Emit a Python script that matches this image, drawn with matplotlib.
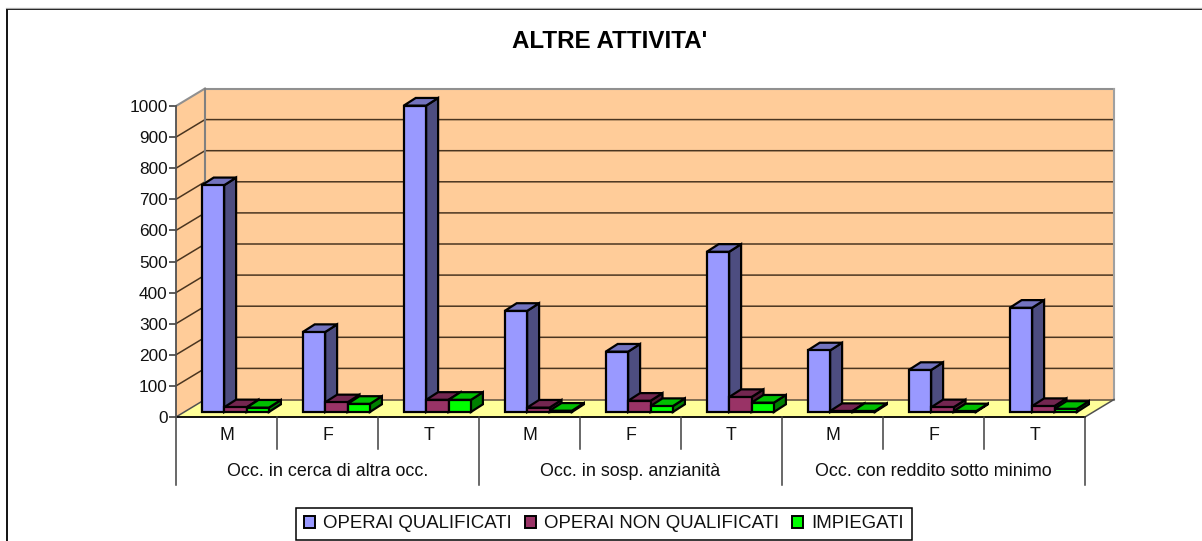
import matplotlib
matplotlib.use('Agg')
import matplotlib.pyplot as plt
from matplotlib.patches import Polygon, Patch
from matplotlib.lines import Line2D

plt.rcParams['font.family'] = ['Liberation Sans', 'DejaVu Sans']

title = "ALTRE ATTIVITA'"
groups = ['Occ. in cerca di altra occ.', 'Occ. in sosp. anzianità', 'Occ. con reddito sotto minimo']
categories = ['M', 'F', 'T', 'M', 'F', 'T', 'M', 'F', 'T']
series_names = ['OPERAI QUALIFICATI', 'OPERAI NON QUALIFICATI', 'IMPIEGATI']
operai_qual = [729, 257, 985, 325, 194, 515, 198, 135, 335]
operai_non_qual = [15, 31, 39, 14, 36, 48, 3, 15, 19]
impiegati = [14, 26, 39, 4, 19, 30, 3, 2, 10]
yticks = [0, 100, 200, 300, 400, 500, 600, 700, 800, 900, 1000]

# front, side, top
colors = [('#9999FF', '#4D4D80', '#7373BF'),
          ('#993366', '#4D1A33', '#732650'),
          ('#00FF00', '#008000', '#00BF00')]

W, H = 1202, 541
fig = plt.figure(figsize=(W / 100, H / 100), dpi=100)
ax = fig.add_axes([176 / W, (H - 417) / H, 909 / W, 311 / H])
ax.set_xlim(0, 9)
ax.set_ylim(0, 1000)
px_x = 9 / 909
px_y = 1000 / 311

# depth of the box and of one bar
wall_dx, wall_dy = 29 * px_x, 17.5 * px_y
bar_dx, bar_dy = 12 * px_x, 7.7 * px_y
base_y = 5 * px_y
start = 25.7 * px_x
bw = 22.4 * px_x


def poly(pts, fc, ec='none', lw=0, z=1):
    ax.add_patch(Polygon(pts, closed=True, facecolor=fc, edgecolor=ec, linewidth=lw,
                         zorder=z, clip_on=False, joinstyle='miter'))


# walls and floor
poly([(0, 0), (wall_dx, wall_dy), (9 + wall_dx, wall_dy), (9, 0)], '#FFFF99', z=1)
poly([(wall_dx, wall_dy), (wall_dx, 1000 + wall_dy), (9 + wall_dx, 1000 + wall_dy), (9 + wall_dx, wall_dy)],
     '#FFCC99', z=1)
poly([(0, 0), (0, 1000), (wall_dx, 1000 + wall_dy), (wall_dx, wall_dy)], '#FFCC99', z=1)

for v in yticks:
    if v in (0, 1000):
        continue
    ax.plot([0, wall_dx, 9 + wall_dx], [v, v + wall_dy, v + wall_dy], color='#4A3520', lw=1.1, zorder=2,
            clip_on=False)
ax.plot([wall_dx, 9 + wall_dx], [wall_dy, wall_dy], color='#6B5A45', lw=1.2, zorder=2, clip_on=False)
ax.plot([wall_dx, 9 + wall_dx], [1000 + wall_dy, 1000 + wall_dy], color='#909090', lw=1.5, zorder=2, clip_on=False)
ax.plot([0, wall_dx], [1000, 1000 + wall_dy], color='#909090', lw=1.5, zorder=2, clip_on=False)
ax.plot([wall_dx, wall_dx], [wall_dy, 1000 + wall_dy], color='#808080', lw=1.5, zorder=2, clip_on=False)
ax.plot([9 + wall_dx, 9 + wall_dx], [wall_dy, 1000 + wall_dy], color='#A0A0A0', lw=1.5, zorder=2, clip_on=False)
ax.plot([0, wall_dx], [0, wall_dy], color='#505050', lw=1.1, zorder=2, clip_on=False)
ax.plot([9, 9 + wall_dx], [0, wall_dy], color='#505050', lw=1.1, zorder=2, clip_on=False)

# bars
series = [operai_qual, operai_non_qual, impiegati]
z = 3
for i in range(len(categories)):
    for s, vals in enumerate(series):
        x0 = i + start + s * bw
        x1 = x0 + bw
        top = base_y + vals[i]
        fc, side, upper = colors[s]
        poly([(x1, base_y), (x1, top), (x1 + bar_dx, top + bar_dy), (x1 + bar_dx, base_y + bar_dy)],
             side, 'black', 1.6, z)
        poly([(x0, top), (x0 + bar_dx, top + bar_dy), (x1 + bar_dx, top + bar_dy), (x1, top)],
             upper, 'black', 1.6, z)
        ax.bar(x0, vals[i], bw, bottom=base_y, align='edge', color=fc, edgecolor='black', linewidth=1.6,
               zorder=z, clip_on=False)
        z += 1

# axes
for name in ['top', 'right', 'bottom']:
    ax.spines[name].set_visible(False)
ax.spines['left'].set_color('#505050')
ax.spines['left'].set_linewidth(1.3)
ax.spines['left'].set_zorder(2)
ax.set_yticks(yticks)
ax.set_xticks([])
ax.tick_params(axis='y', length=5, width=1.1, color='#303030', labelsize=12.4, pad=1, labelcolor='#111111')
ax.plot([0, 9], [0, 0], color='black', lw=1.3, zorder=2, clip_on=False)

# two-level category labels under the floor
sep_short = -32 * px_y
sep_long = -68 * px_y
for i in range(10):
    low = sep_long if i % 3 == 0 else sep_short
    ax.plot([i, i], [0, low], color='#404040', lw=1.1, clip_on=False, zorder=2)
for i, c in enumerate(categories):
    ax.text(i + 0.5, -18.5 * px_y, c, ha='center', va='center', fontsize=12.8, color='#111111')
for g, name in enumerate(groups):
    ax.text(3 * g + 1.5, -55 * px_y, name, ha='center', va='center', fontsize=12.9, color='#111111')

# chart frame, no right or bottom side in the crop
fig.add_artist(Line2D([7 / W, 7 / W], [0, (H - 9) / H], color='black', lw=1.3))
fig.add_artist(Line2D([7 / W, 1], [(H - 9) / H, (H - 9) / H], color='black', lw=1.3))
fig.add_artist(Line2D([6 / W, 1], [(H - 7.8) / H, (H - 7.8) / H], color='#AAAAAA', lw=0.9))

fig.text(610 / W, (H - 41.5) / H, title, ha='center', va='center', fontsize=17.4, fontweight='bold', color='black')

handles = [Patch(facecolor=c[0], edgecolor='black', linewidth=1.4) for c in colors]
leg = fig.legend(handles, series_names, loc='center', bbox_to_anchor=(604 / W, (H - 524) / H), ncol=3,
                 fontsize=13.4, frameon=True, fancybox=False, edgecolor='black', framealpha=1,
                 handlelength=0.6, handleheight=0.6, handletextpad=0.44, columnspacing=0.7,
                 borderpad=0.4, borderaxespad=0)
leg.get_frame().set_linewidth(1.1)
for t in leg.get_texts():
    t.set_color('#111111')

fig.savefig('out.png', dpi=100)
